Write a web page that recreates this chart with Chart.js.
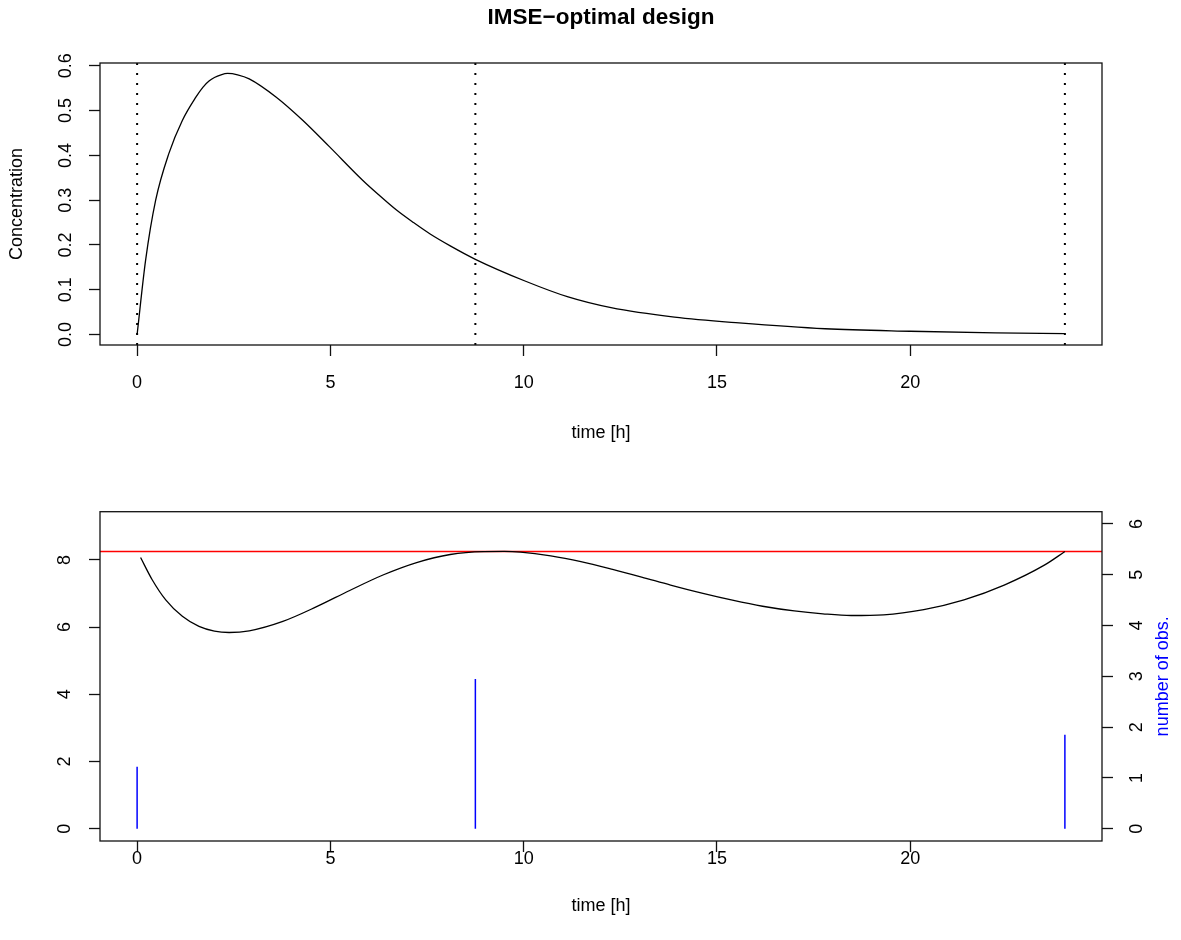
<!DOCTYPE html>
<html><head><meta charset="utf-8">
<script src="https://cdn.jsdelivr.net/npm/chart.js@4/dist/chart.umd.min.js"></script>
<style>
html,body{margin:0;padding:0;background:#fff;}
#wrap{position:relative;width:1181px;height:940px;overflow:hidden;}
.pane{position:absolute;left:0;width:1181px;height:470px;}
</style></head>
<body><div id="wrap">
<div class="pane" style="top:0"><canvas id="c1" width="1181" height="470"></canvas></div>
<div class="pane" style="top:470px"><canvas id="c2" width="1181" height="470"></canvas></div>
</div>
<script>
// ---- text ----
const titleText = 'IMSE\u2212optimal design';
const xTitle = 'time [h]';
const concTitle = 'Concentration';
const obsTitle = 'number of obs.';

// ---- tick labels ----
const xTicks = [0, 5, 10, 15, 20];
const concTicks = [0, 0.1, 0.2, 0.3, 0.4, 0.5, 0.6];
const varTicks = [0, 2, 4, 6, 8];
const obsTicks = [0, 1, 2, 3, 4, 5, 6];

// ---- axis limits ----
const xRange = [-0.96, 24.96];
const concRange = [-0.0233, 0.6063];
const varRange = [-0.363, 9.433];
const obsRange = [-0.24, 6.24];

// ---- concentration curve (top) ----
const concTime  = [0, 0.22, 0.48, 0.82, 1.17, 1.52, 1.7, 1.86, 2.0, 2.17, 2.34, 2.6, 2.9, 3.6, 4.29, 4.98, 5.84, 6.25, 6.71, 7.15, 7.58, 8.1, 8.75, 10.05, 11.15, 12.26, 13.9, 15.57, 17.8, 20.0, 22.2, 24];
const concValue = [0, 0.166, 0.300, 0.404, 0.478, 0.530, 0.552, 0.566, 0.574, 0.580, 0.583, 0.580, 0.571, 0.530, 0.478, 0.419, 0.344, 0.312, 0.278, 0.250, 0.2245, 0.198, 0.168, 0.119, 0.084, 0.060, 0.039, 0.026, 0.013, 0.0074, 0.0036, 0.002];

// ---- design ----
const designTimes = [0, 8.75, 24];
const designObs = [1.22, 2.95, 1.85];

// ---- prediction variance curve (bottom) ----
const varTime  = [0.09, 0.39, 0.74, 1.17, 1.6, 2.0, 2.38, 2.9, 3.77, 4.63, 5.5, 6.36, 7.23, 8.1, 8.96, 9.5, 9.92, 10.7, 11.48, 12.3, 13.05, 13.8, 14.61, 15.4, 16.18, 17.0, 17.74, 18.47, 19.31, 20.35, 21.39, 22.43, 23.48, 24];
const varValue = [8.07, 7.41, 6.81, 6.32, 6.02, 5.88, 5.84, 5.89, 6.17, 6.60, 7.09, 7.55, 7.92, 8.16, 8.245, 8.25, 8.23, 8.12, 7.95, 7.72, 7.49, 7.25, 7.01, 6.80, 6.62, 6.48, 6.395, 6.345, 6.365, 6.52, 6.81, 7.25, 7.85, 8.247];
const varThreshold = 8.247;

// ---- setup ----
const FONT = "'Liberation Sans', Arial, Helvetica, sans-serif";
Chart.defaults.font.family = FONT;
Chart.defaults.font.size = 18;
Chart.defaults.color = '#000';

const fixedTicks = arr => s => { s.ticks = arr.map(v => ({ value: v })); };
const tickGrid = { display: true, drawOnChartArea: false, drawTicks: true, tickLength: 11, tickWidth: 1.3, tickColor: '#111' };

const boxPlugin = {
  id: 'box',
  afterDraw(chart) {
    const a = chart.chartArea, ctx = chart.ctx;
    ctx.save();
    ctx.strokeStyle = '#111';
    ctx.lineWidth = 1.3;
    ctx.strokeRect(a.left, a.top, a.right - a.left, a.bottom - a.top);
    ctx.restore();
  }
};

const rightTitlePlugin = {
  id: 'rightTitle',
  afterDraw(chart) {
    const a = chart.chartArea, ctx = chart.ctx;
    ctx.save();
    ctx.translate(1168, (a.top + a.bottom) / 2);
    ctx.rotate(-Math.PI / 2);
    ctx.font = '18px ' + FONT;
    ctx.fillStyle = '#0000ff';
    ctx.textAlign = 'center';
    ctx.textBaseline = 'alphabetic';
    ctx.fillText(obsTitle, 0, 0);
    ctx.restore();
  }
};

const pts = (xs, ys) => xs.map((x, i) => ({ x, y: ys[i] }));
const common = { responsive: false, animation: false, events: [] };

// ---- top chart ----
new Chart(document.getElementById('c1'), {
  type: 'line',
  data: {
    datasets: [
      { data: pts(concTime, concValue), borderColor: '#000', borderWidth: 1.3, pointRadius: 0, cubicInterpolationMode: 'monotone', fill: false },
      ...designTimes.map(t => ({
        data: [{ x: t, y: concRange[0] }, { x: t, y: concRange[1] }],
        borderColor: '#000', borderWidth: 2, borderDash: [2, 8], pointRadius: 0, fill: false
      }))
    ]
  },
  options: {
    ...common,
    layout: { padding: { left: 0, right: 79, top: 0, bottom: 0 } },
    plugins: {
      legend: { display: false }, tooltip: { enabled: false },
      title: { display: true, text: titleText, fullSize: false, color: '#000',
               font: { size: 22.5, weight: 'bold' }, padding: { top: 4, bottom: 32 } }
    },
    scales: {
      x: {
        type: 'linear', min: xRange[0], max: xRange[1], offset: false,
        afterBuildTicks: fixedTicks(xTicks), afterFit: s => { s.height = 125; },
        ticks: { padding: 16.5, maxRotation: 0, autoSkip: false },
        grid: tickGrid, border: { display: false },
        title: { display: true, text: xTitle, padding: { top: 0, bottom: 26.5 } }
      },
      y: {
        type: 'linear', min: concRange[0], max: concRange[1],
        afterBuildTicks: fixedTicks(concTicks), afterFit: s => { s.width = 100; },
        ticks: { padding: 10, minRotation: 90, maxRotation: 90, crossAlign: 'center', callback: v => Number(v).toFixed(1) },
        grid: tickGrid, border: { display: false },
        title: { display: true, text: concTitle, padding: { top: 6.7, bottom: 0 } }
      }
    }
  },
  plugins: [boxPlugin]
});

// ---- bottom chart ----
new Chart(document.getElementById('c2'), {
  type: 'line',
  data: {
    datasets: [
      { data: pts(varTime, varValue), yAxisID: 'y', borderColor: '#000', borderWidth: 1.3, pointRadius: 0, cubicInterpolationMode: 'monotone', fill: false },
      { data: [{ x: xRange[0], y: varThreshold }, { x: xRange[1], y: varThreshold }], yAxisID: 'y', borderColor: '#ff0000', borderWidth: 1.5, pointRadius: 0, fill: false },
      ...designTimes.map((t, i) => ({
        data: [{ x: t, y: 0 }, { x: t, y: designObs[i] }], yAxisID: 'y2',
        borderColor: '#0000ff', borderWidth: 1.5, pointRadius: 0, fill: false
      }))
    ]
  },
  options: {
    ...common,
    layout: { padding: { left: 0, right: 0, top: 41.7, bottom: 0 } },
    plugins: { legend: { display: false }, tooltip: { enabled: false } },
    scales: {
      x: {
        type: 'linear', min: xRange[0], max: xRange[1], offset: false,
        afterBuildTicks: fixedTicks(xTicks), afterFit: s => { s.height = 99; },
        ticks: { padding: -3.5, maxRotation: 0, autoSkip: false },
        grid: tickGrid, border: { display: false },
        title: { display: true, text: xTitle, padding: { top: 0, bottom: 22.7 } }
      },
      y: {
        type: 'linear', position: 'left', min: varRange[0], max: varRange[1],
        afterBuildTicks: fixedTicks(varTicks), afterFit: s => { s.width = 100; },
        ticks: { padding: 19, minRotation: 90, maxRotation: 90, crossAlign: 'center' },
        grid: tickGrid, border: { display: false }
      },
      y2: {
        type: 'linear', position: 'right', min: obsRange[0], max: obsRange[1],
        afterBuildTicks: fixedTicks(obsTicks), afterFit: s => { s.width = 79; },
        ticks: { padding: 19.5, minRotation: 90, maxRotation: 90, crossAlign: 'center' },
        grid: tickGrid, border: { display: false }
      }
    }
  },
  plugins: [boxPlugin, rightTitlePlugin]
});
</script>
</body></html>
